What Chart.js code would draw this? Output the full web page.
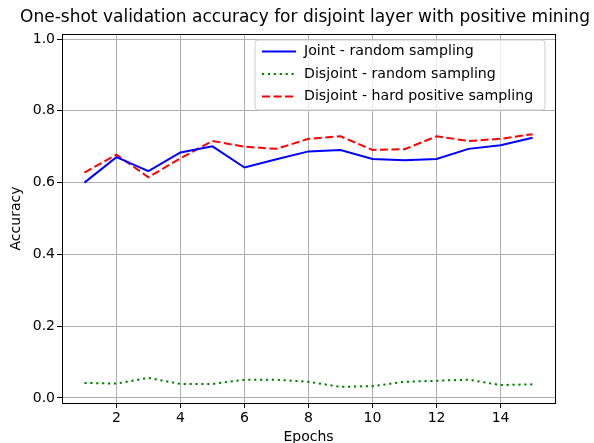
<html>
<head>
	<meta charset="UTF-8">
	<title>One-shot validation accuracy</title>
	<script src="https://cdn.jsdelivr.net/npm/chart.js@4.4.1/dist/chart.umd.min.js"></script>
</head>
<style>
body{
	margin: 0;
	background: #ffffff;
}
</style>
<body>
	<canvas id="myChart" width="594" height="443"></canvas>

<script type="text/javascript">

var epochs = [1, 2, 3, 4, 5, 6, 7, 8, 9, 10, 11, 12, 13, 14, 15];
var jointRandom = [0.600, 0.671, 0.632, 0.684, 0.701, 0.642, 0.665, 0.687, 0.691, 0.666, 0.662, 0.666, 0.694, 0.704, 0.725];
var disjointRandom = [0.042, 0.040, 0.056, 0.039, 0.039, 0.051, 0.051, 0.045, 0.031, 0.033, 0.045, 0.048, 0.051, 0.036, 0.038];
var disjointHard = [0.628, 0.678, 0.615, 0.668, 0.716, 0.700, 0.694, 0.722, 0.729, 0.691, 0.693, 0.729, 0.716, 0.722, 0.735];
var xTicks = [2, 4, 6, 8, 10, 12, 14];
var yTicks = [0.0, 0.2, 0.4, 0.6, 0.8, 1.0];

var font_family = "'DejaVu Sans', sans-serif";

var fn_points = function(values){
	var pts = [];
	for (var i = 0; i < epochs.length; i++){
		pts.push({x: epochs[i], y: values[i]});
	}
	return pts;
}

// frame round the plot + legend inside the axes, like matplotlib
var framePlugin = {
	id: "frame",
	afterDraw: function(chart){
		var ctx = chart.ctx;
		var a = chart.chartArea;
		ctx.save();
		ctx.strokeStyle = "#000000";
		ctx.lineWidth = 1;
		ctx.strokeRect(Math.round(a.left) + 0.5, Math.round(a.top) + 0.5, Math.round(a.right - a.left), Math.round(a.bottom - a.top));

		// legend
		var bx = 255, by = 40, bw = 290, bh = 70, r = 3;
		ctx.beginPath();
		ctx.moveTo(bx + r, by);
		ctx.lineTo(bx + bw - r, by);
		ctx.quadraticCurveTo(bx + bw, by, bx + bw, by + r);
		ctx.lineTo(bx + bw, by + bh - r);
		ctx.quadraticCurveTo(bx + bw, by + bh, bx + bw - r, by + bh);
		ctx.lineTo(bx + r, by + bh);
		ctx.quadraticCurveTo(bx, by + bh, bx, by + bh - r);
		ctx.lineTo(bx, by + r);
		ctx.quadraticCurveTo(bx, by, bx + r, by);
		ctx.closePath();
		ctx.fillStyle = "rgba(255,255,255,0.8)";
		ctx.fill();
		ctx.strokeStyle = "#cccccc";
		ctx.stroke();

		var sets = chart.data.datasets;
		ctx.font = "14.2px " + font_family;
		ctx.textBaseline = "middle";
		ctx.textAlign = "left";
		for (var i = 0; i < sets.length; i++){
			var y = by + 11.5 + i * 22.5;
			ctx.beginPath();
			ctx.setLineDash(sets[i].borderDash || []);
			ctx.strokeStyle = sets[i].borderColor;
			ctx.lineWidth = sets[i].borderWidth;
			ctx.moveTo(262, y);
			ctx.lineTo(296, y);
			ctx.stroke();
			ctx.setLineDash([]);
			ctx.fillStyle = "#000000";
			ctx.fillText(sets[i].label, 304, y);
		}
		ctx.restore();
	}
};

var ctx = document.getElementById("myChart");
var myChart = new Chart(ctx, {
	type: "line",
	data: {
		datasets: [{
			label: "Joint - random sampling",
			data: fn_points(jointRandom),
			borderColor: "#0000ff",
			borderWidth: 2,
			pointRadius: 0,
			tension: 0,
			fill: false
		}, {
			label: "Disjoint - random sampling",
			data: fn_points(disjointRandom),
			borderColor: "#008000",
			borderWidth: 2,
			borderDash: [2.2, 3.7],
			pointRadius: 0,
			tension: 0,
			fill: false
		}, {
			label: "Disjoint - hard positive sampling",
			data: fn_points(disjointHard),
			borderColor: "#ff0000",
			borderWidth: 2,
			borderDash: [8, 3.5],
			pointRadius: 0,
			tension: 0,
			fill: false
		}]
	},
	options: {
		responsive: false,
		animation: false,
		devicePixelRatio: 1,
		layout: {padding: {left: 16, right: 0, top: 3.6, bottom: 0}},
		plugins: {
			legend: {display: false},
			tooltip: {enabled: false},
			title: {
				display: true,
				text: "One-shot validation accuracy for disjoint layer with positive mining",
				color: "#000000",
				font: {family: font_family, size: 17, weight: "normal"},
				padding: {top: 4, bottom: 6}
			}
		},
		scales: {
			x: {
				type: "linear",
				min: 0.3,
				max: 15.7,
				afterBuildTicks: function(axis){
					axis.ticks = xTicks.map(function(v){ return {value: v}; });
				},
				afterFit: function(axis){ axis.height = 40; },
				ticks: {
					color: "#000000",
					font: {family: font_family, size: 14},
					padding: 2,
					maxRotation: 0,
					callback: function(v){ return String(v); }
				},
				grid: {color: "#b0b0b0", lineWidth: 1, tickLength: 5, tickColor: "#000000"},
				border: {display: true, color: "#000000"},
				title: {
					display: true,
					text: "Epochs",
					color: "#000000",
					font: {family: font_family, size: 14},
					padding: {top: 0, bottom: -3}
				}
			},
			y: {
				min: -0.014,
				max: 1.014,
				afterBuildTicks: function(axis){
					axis.ticks = yTicks.map(function(v){ return {value: v}; });
				},
				afterFit: function(axis){ axis.width = 46; },
				ticks: {
					color: "#000000",
					font: {family: font_family, size: 14},
					padding: 2,
					callback: function(v){ return Number(v).toFixed(1); }
				},
				grid: {color: "#b0b0b0", lineWidth: 1, tickLength: 5, tickColor: "#000000"},
				border: {display: true, color: "#000000"},
				title: {
					display: true,
					text: "Accuracy",
					color: "#000000",
					font: {family: font_family, size: 14},
					padding: {top: -8, bottom: 0}
				}
			},
			// empty right-hand scale, only keeps the right margin
			yr: {
				position: "right",
				display: true,
				min: 0,
				max: 1,
				afterFit: function(axis){ axis.width = 39; },
				ticks: {display: false},
				grid: {display: false, drawTicks: false},
				border: {display: false}
			}
		}
	},
	plugins: [framePlugin]
});

</script>
</body>
</html>
